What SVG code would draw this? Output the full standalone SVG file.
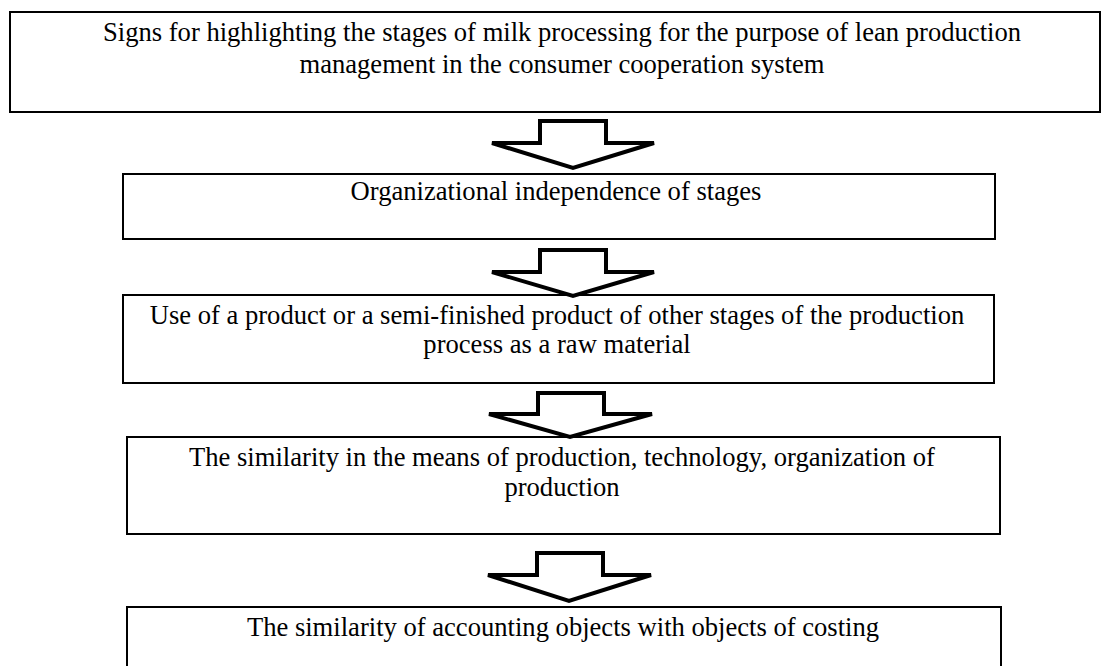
<svg xmlns="http://www.w3.org/2000/svg" width="1102" height="666" viewBox="0 0 1102 666">
<style>
.box{fill:#fff;stroke:#000;stroke-width:2}
.arrow{fill:#fff;stroke:#000;stroke-width:4;stroke-linejoin:miter}
text{font-family:"Liberation Serif","Times New Roman",serif;font-size:26.6px;fill:#000;text-anchor:middle}
</style>
<rect width="1102" height="666" fill="#fff"/>
<g id="node1">
<rect class="box" x="10" y="12" width="1090" height="100"/>
<text x="562" y="41">Signs for highlighting the stages of milk processing for the purpose of lean production</text>
<text x="562" y="73">management in the consumer cooperation system</text>
</g>
<g id="node2">
<rect class="box" x="123" y="174" width="872" height="65"/>
<text x="556" y="200">Organizational independence of stages</text>
</g>
<g id="node3">
<rect class="box" x="123" y="295" width="871" height="88"/>
<text x="557" y="324">Use of a product or a semi-finished product of other stages of the production</text>
<text x="557" y="353">process as a raw material</text>
</g>
<g id="node4">
<rect class="box" x="127" y="437" width="873" height="97"/>
<text x="562" y="466">The similarity in the means of production, technology, organization of</text>
<text x="562" y="496">production</text>
</g>
<g id="node5">
<rect class="box" x="127" y="607" width="874" height="64"/>
<text x="563" y="636">The similarity of accounting objects with objects of costing</text>
</g>
<g id="connectors">
<polygon class="arrow" points="540,121 606,121 606,143 654,143 573,168 492,143 540,143"/>
<polygon class="arrow" points="540,250 606,250 606,272 654,272 573,296 492,272 540,272"/>
<polygon class="arrow" points="538,393 604,393 604,414 652,414 570,437 489,414 538,414"/>
<polygon class="arrow" points="537,553 603,553 603,575 651,575 569,601 488,575 537,575"/>
</g>
</svg>
